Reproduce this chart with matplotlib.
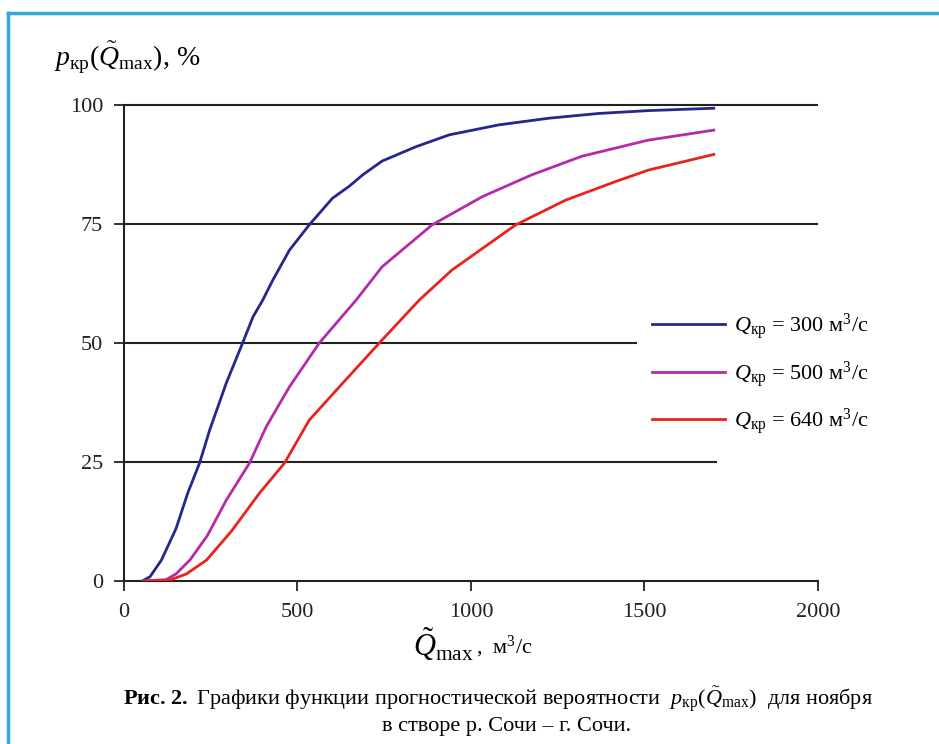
import numpy as np
import matplotlib
matplotlib.use("Agg")
import matplotlib.pyplot as plt
from matplotlib.lines import Line2D

plt.rcParams["font.family"] = ["Liberation Serif", "DejaVu Serif"]
plt.rcParams["mathtext.fontset"] = "custom"
plt.rcParams["mathtext.rm"] = "Liberation Serif"
plt.rcParams["mathtext.it"] = "Liberation Serif:italic"
plt.rcParams["mathtext.bf"] = "Liberation Serif:bold"

# Q_kp = 300 m3/s
q300_x = [52, 75, 108, 150, 184, 218, 247, 295, 342, 372, 400, 429, 477, 534,
          601, 649, 688, 744, 841, 937, 1080, 1224, 1368, 1511, 1700]
q300_y = [0, 0.9, 4.4, 11, 18.5, 24.8, 31.7, 41.6, 50, 55.5, 59, 63.2, 69.5, 74.8,
          80.4, 82.9, 85.3, 88.2, 91.2, 93.7, 95.8, 97.2, 98.2, 98.8, 99.3]
# Q_kp = 500 m3/s
q500_x = [55, 122, 150, 190, 240, 295, 362, 410, 477, 563, 669, 744, 888, 1032,
          1175, 1319, 1511, 1700]
q500_y = [0, 0.3, 1.5, 4.4, 9.5, 17, 24.8, 32.4, 40.8, 50, 59, 66, 74.8, 80.7,
          85.3, 89.2, 92.6, 94.7]
# Q_kp = 640 m3/s
q640_x = [60, 132, 180, 238, 310, 391, 463, 534, 621, 736, 851, 945, 1129, 1273,
          1417, 1511, 1700]
q640_y = [0, 0.2, 1.5, 4.4, 10.5, 18.5, 24.8, 33.8, 40.8, 50, 59, 65.3, 74.8, 80,
          83.9, 86.3, 89.6]

labels = [r"$Q_{\mathrm{кр}}$ = 300 м$^{3}$/с",
          r"$Q_{\mathrm{кр}}$ = 500 м$^{3}$/с",
          r"$Q_{\mathrm{кр}}$ = 640 м$^{3}$/с"]
colors = ["#25278a", "#b52aa8", "#e8231d"]

grid_levels = [25, 50, 75, 100]
grid_ends = [1710, 1480, 2000, 2000]
xticks = [0, 500, 1000, 1500, 2000]
yticks = [0, 25, 50, 75, 100]

fig = plt.figure(figsize=(9.39, 7.44), dpi=100)
ax = fig.add_axes([0.132, 0.219, 0.739, 0.640])

for lvl, end in zip(grid_levels, grid_ends):
    ax.hlines(lvl, 0, end, color="#222222", lw=1.5, zorder=1, clip_on=False)

series = [(q300_x, q300_y), (q500_x, q500_y), (q640_x, q640_y)]
for (xs, ys), c, lab in zip(series, colors, labels):
    ax.plot(xs, ys, color=c, lw=2.0, label=lab, zorder=3)

ax.set_xlim(0, 2000)
ax.set_ylim(0, 100)
ax.set_xticks(xticks)
ax.set_yticks(yticks)
for s in ["top", "right"]:
    ax.spines[s].set_visible(False)
for s in ["left", "bottom"]:
    ax.spines[s].set_linewidth(1.5)
    ax.spines[s].set_color("#222222")
ax.tick_params(axis="x", direction="out", length=7, width=1.3, pad=9,
               labelsize=16, colors="#222222")
ax.tick_params(axis="y", direction="out", length=7, width=1.3, pad=8,
               labelsize=16, colors="#222222")

ax.legend(loc="center left", bbox_to_anchor=(0.694, 0.497),
          bbox_transform=fig.transFigure, frameon=False, fontsize=16,
          handlelength=3.3, handletextpad=0.4, labelspacing=0.75,
          borderpad=0, borderaxespad=0)

fig.text(0.058, 0.922, r"$p_{\mathrm{кр}}(\tilde{Q}_{\mathrm{max}})$, %",
         fontsize=20, ha="left", va="center")
fig.text(0.505, 0.134, r"$\tilde{Q}_{\mathrm{max}}$", fontsize=22,
         ha="right", va="center")
fig.text(0.507, 0.130, ",  м$^{3}$/с", fontsize=16, ha="left", va="center")

fig.text(0.53, 0.060,
         r"$\mathbf{Рис.\,2.}$ Графики функции прогностической вероятности  "
         r"$p_{\mathrm{кр}}(\tilde{Q}_{\mathrm{max}})$  для ноября",
         fontsize=16, ha="center", va="center")
fig.text(0.54, 0.024, "в створе р. Сочи – г. Сочи.", fontsize=16,
         ha="center", va="center")

# light blue frame (top and left edges)
frame_c = "#2fa9df"
fig.add_artist(Line2D([0.009, 1.0], [0.983, 0.983], color=frame_c, lw=2.5,
                      transform=fig.transFigure))
fig.add_artist(Line2D([0.009, 0.009], [0.0, 0.983], color=frame_c, lw=2.5,
                      transform=fig.transFigure))

fig.savefig("out.png", dpi=100)
